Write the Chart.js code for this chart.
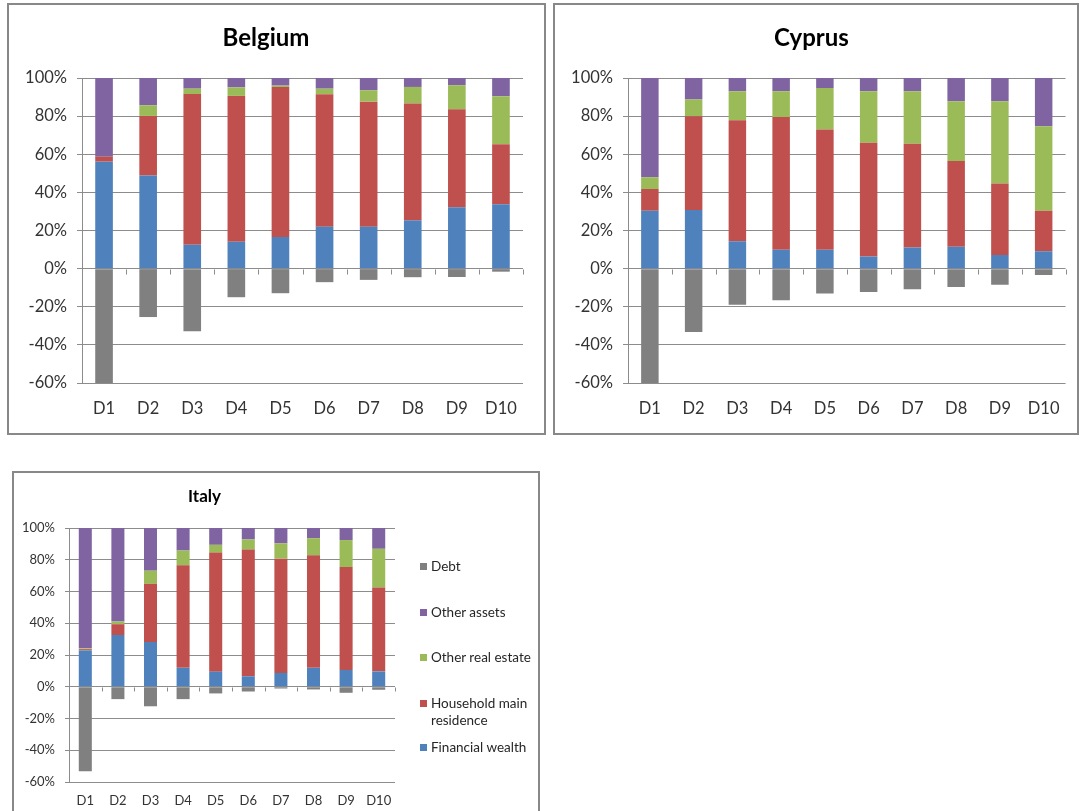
<!DOCTYPE html>
<html>
<head>
<meta charset="utf-8">
<title>Wealth composition by decile</title>
<script src="https://cdn.jsdelivr.net/npm/chart.js@4.4.1/dist/chart.umd.min.js"></script>
<style>
    body { margin: 0; width: 1081px; height: 811px; overflow: hidden; background: #fff; position: relative; }
    .frame { position: absolute; border: 2px solid #888; box-sizing: border-box; }
    canvas { position: absolute; }
    .legend-item { position: absolute; font: 13.5px Lato, sans-serif; color: #262626; line-height: 17px; white-space: nowrap; }
    .legend-item .swatch { position: absolute; left: -11px; top: 5px; width: 7px; height: 7px; }
</style>
</head>
<body>
<div class="frame" style="left:7px; top:3px; width:539px; height:432px;"></div>
<div class="frame" style="left:553px; top:3px; width:526px; height:432px;"></div>
<div class="frame" style="left:12px; top:471px; width:528px; height:360px;"></div>

<canvas id="belgiumChart" width="534" height="428" style="left:9px; top:5px;"></canvas>
<canvas id="cyprusChart" width="521" height="428" style="left:555px; top:5px;"></canvas>
<canvas id="italyChart" width="522" height="337" style="left:14px; top:474px;"></canvas>

<div id="italyLegend"></div>

<script>
// Deciles of net wealth
const deciles = ['D1', 'D2', 'D3', 'D4', 'D5', 'D6', 'D7', 'D8', 'D9', 'D10'];
const seriesNames = ['Financial wealth', 'Household main residence', 'Other real estate', 'Other assets', 'Debt'];
const seriesColors = ['#4F81BD', '#C0504D', '#9BBB59', '#8064A2', '#808080'];
const yTicks = [-60, -40, -20, 0, 20, 40, 60, 80, 100];

// Belgium, % of gross wealth
const belgiumFinancial = [56.1, 48.8, 12.5, 14.1, 16.6, 22.0, 22.0, 25.3, 32.2, 33.8];
const belgiumMainResidence = [2.6, 31.3, 79.1, 76.5, 78.7, 69.5, 65.6, 61.3, 51.4, 31.5];
const belgiumOtherRealEstate = [0.0, 5.6, 2.8, 4.5, 0.7, 2.9, 6.0, 8.7, 12.6, 25.1];
const belgiumOtherAssets = [41.3, 14.3, 5.6, 4.9, 4.0, 5.6, 6.4, 4.7, 3.8, 9.6];
const belgiumDebt = [-60.0, -25.4, -32.8, -15.0, -12.9, -7.1, -5.9, -4.5, -4.4, -1.6];

// Cyprus
const cyprusFinancial = [30.3, 30.7, 14.3, 9.9, 9.9, 6.3, 11.1, 11.5, 7.1, 9.1];
const cyprusMainResidence = [11.5, 49.3, 63.6, 69.7, 63.1, 59.7, 54.4, 44.9, 37.5, 21.2];
const cyprusOtherRealEstate = [6.1, 8.7, 15.1, 13.4, 21.8, 27.0, 27.5, 31.4, 43.2, 44.4];
const cyprusOtherAssets = [52.1, 11.3, 7.0, 7.0, 5.2, 7.0, 7.0, 12.2, 12.2, 25.3];
const cyprusDebt = [-60.0, -33.3, -19.0, -16.6, -13.1, -12.2, -10.8, -9.6, -8.5, -3.3];

// Italy
const italyFinancial = [22.9, 32.6, 28.2, 11.9, 9.5, 6.6, 8.7, 11.9, 10.6, 9.7];
const italyMainResidence = [0.8, 6.8, 36.6, 64.6, 75.0, 79.8, 72.0, 70.9, 64.8, 52.8];
const italyOtherRealEstate = [0.5, 1.7, 8.3, 9.3, 4.9, 6.4, 9.6, 10.8, 17.0, 24.4];
const italyOtherAssets = [75.8, 58.9, 26.9, 14.2, 10.6, 7.2, 9.7, 6.4, 7.6, 13.1];
const italyDebt = [-53.2, -7.8, -12.3, -7.8, -4.2, -3.0, -1.1, -1.7, -3.8, -1.9];

Chart.defaults.font.family = 'Lato, sans-serif';
Chart.defaults.color = '#333';

const gridColor = '#8c8c8c';

// Small downward tick marks on the 0% line between deciles
const zeroLineTicks = {
    id: 'zeroLineTicks',
    afterDatasetsDraw(chart, args, opts) {
        const xs = chart.scales.x;
        const ys = chart.scales.y;
        const ctx = chart.ctx;
        const y0 = Math.round(ys.getPixelForValue(0)) + 0.5;
        ctx.save();
        ctx.strokeStyle = gridColor;
        ctx.lineWidth = 1;
        ctx.beginPath();
        for (let i = 0; i < deciles.length; i++) {
            const px = Math.round(xs.getPixelForValue(i + 0.5)) + 0.5;
            ctx.moveTo(px, y0);
            ctx.lineTo(px, y0 + (opts.length || 4));
        }
        ctx.stroke();
        ctx.restore();
    }
};

function buildDatasets(values) {
    return values.map((data, i) => ({
        label: seriesNames[i],
        data: data,
        backgroundColor: seriesColors[i],
        borderWidth: 0,
        categoryPercentage: 1,
        barPercentage: 0.4
    }));
}

function renderPanel(canvasId, title, values, opt) {
    const canvas = document.getElementById(canvasId);
    const ctx = canvas.getContext('2d');
    return new Chart(ctx, {
        type: 'bar',
        data: { labels: deciles, datasets: buildDatasets(values) },
        options: {
            responsive: false,
            animation: false,
            layout: { padding: { left: 0, right: opt.padRight, top: 0, bottom: 0 } },
            plugins: {
                legend: { display: false },
                tooltip: { enabled: false },
                title: {
                    display: true,
                    text: title,
                    color: '#000',
                    font: { size: opt.titleSize, weight: 'bold' },
                    padding: { top: opt.titleTop, bottom: opt.titleBottom }
                },
                zeroLineTicks: { length: opt.zeroTick }
            },
            scales: {
                x: {
                    stacked: true,
                    grid: { display: false, drawTicks: false },
                    border: { display: false },
                    ticks: { font: { size: opt.tickSize }, padding: opt.xPad, maxRotation: 0, autoSkip: false },
                    afterFit: s => { s.height = opt.xHeight; }
                },
                y: {
                    stacked: true,
                    min: yTicks[0],
                    max: yTicks[yTicks.length - 1],
                    afterBuildTicks: s => { s.ticks = yTicks.map(v => ({ value: v })); },
                    grid: { color: gridColor, lineWidth: 1, drawTicks: true, tickLength: opt.yTick, tickColor: gridColor },
                    border: { display: true, color: gridColor, width: 1 },
                    ticks: {
                        font: { size: opt.tickSize },
                        padding: opt.yPad,
                        callback: v => v + '%'
                    },
                    afterFit: s => { s.width = opt.yWidth; }
                }
            }
        },
        plugins: [zeroLineTicks]
    });
}

renderPanel('belgiumChart', 'Belgium',
    [belgiumFinancial, belgiumMainResidence, belgiumOtherRealEstate, belgiumOtherAssets, belgiumDebt],
    { padRight: 20, titleSize: 24, titleTop: 18.6, titleBottom: 25.6, tickSize: 16.5, xPad: 16.1, xHeight: 50, yWidth: 73, yTick: 5, yPad: 10, zeroTick: 5 });

renderPanel('cyprusChart', 'Cyprus',
    [cyprusFinancial, cyprusMainResidence, cyprusOtherRealEstate, cyprusOtherAssets, cyprusDebt],
    { padRight: 8, titleSize: 24, titleTop: 18.6, titleBottom: 25.6, tickSize: 16.5, xPad: 16.1, xHeight: 50, yWidth: 73, yTick: 5, yPad: 10, zeroTick: 5 });

renderPanel('italyChart', 'Italy',
    [italyFinancial, italyMainResidence, italyOtherRealEstate, italyOtherAssets, italyDebt],
    { padRight: 141, titleSize: 17, titleTop: 12.8, titleBottom: 20.8, tickSize: 13, xPad: 11, xHeight: 29, yWidth: 55, yTick: 4, yPad: 10, zeroTick: 4 });

// Italy legend, listed top to bottom in reverse stacking order
const legendLines = [['Debt'], ['Other assets'], ['Other real estate'], ['Household main', 'residence'], ['Financial wealth']];
const legendTops = [558, 604, 649, 695, 739];
const legendBox = document.getElementById('italyLegend');
legendLines.forEach((lines, k) => {
    const idx = seriesNames.length - 1 - k;
    const item = document.createElement('div');
    item.className = 'legend-item';
    item.style.left = '431px';
    item.style.top = legendTops[k] + 'px';
    item.innerHTML = '<span class="swatch" style="background:' + seriesColors[idx] + '"></span>' + lines.join('<br>');
    legendBox.appendChild(item);
});
</script>
</body>
</html>
